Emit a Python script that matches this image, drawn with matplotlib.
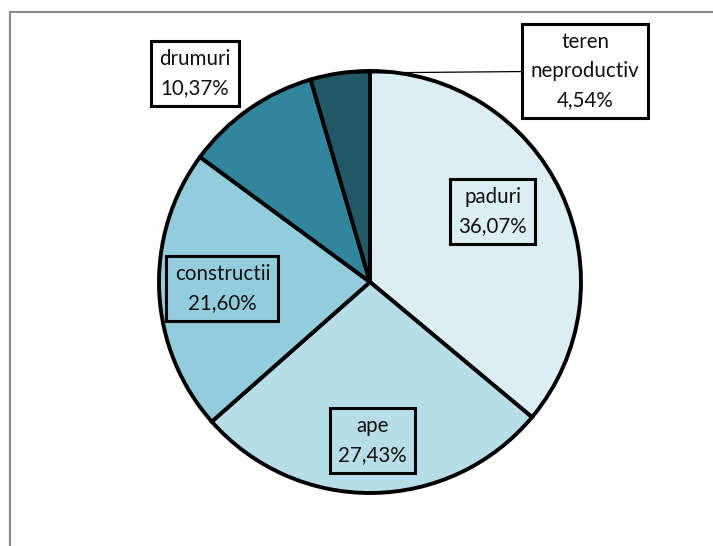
import numpy as np
import matplotlib
matplotlib.use("Agg")
import matplotlib.pyplot as plt
from matplotlib.patches import Rectangle

labels = ["paduri", "ape", "constructii", "drumuri", "teren\nneproductiv"]
values = [36.07, 27.43, 21.60, 10.37, 4.54]
colors = ["#DBEEF4", "#B7DEE8", "#93CDDD", "#31859C", "#215967"]
# where each label sits, as fraction of radius, and angle shift (deg)
label_r = [0.67, 0.75, 0.70, 1.29, None]
label_shift = [4.7, 0, 0, 5, 0]
box_fill = ["none", "none", "none", "white", "white"]

plt.rcParams['font.family'] = ['Lato', 'DejaVu Sans']

fig = plt.figure(figsize=(7.13, 5.46), dpi=100)
ax = fig.add_axes([0, 0, 1, 1])

# pixel-like coordinates, y up
cx, cy, R = 370, 546 - 282, 211
wedges, _ = ax.pie(values, colors=colors, startangle=90, counterclock=False,
                   center=(cx, cy), radius=R,
                   wedgeprops=dict(edgecolor="black", linewidth=2.8))
ax.set_xlim(0, 713)
ax.set_ylim(0, 546)
ax.set_aspect("equal")
ax.axis("off")

# frame around chart area (cut off at right and bottom)
ax.add_patch(Rectangle((9.5, -20), 760, 546 - 12 + 20, fill=False,
                       edgecolor="#8c8c8c", linewidth=1.6, clip_on=False))

fs = 14.8
for i, w in enumerate(wedges):
    txt = labels[i] + "\n" + f"{values[i]:.2f}".replace(".", ",") + "%"
    bbox = dict(boxstyle="square,pad=0.4", facecolor=box_fill[i],
                edgecolor="black", linewidth=2.2)
    if label_r[i] is not None:
        ang = np.deg2rad((w.theta1 + w.theta2) / 2 + label_shift[i])
        x = cx + label_r[i] * R * np.cos(ang)
        y = cy + label_r[i] * R * np.sin(ang)
        ax.text(x, y, txt, ha="center", va="center", fontsize=fs,
                linespacing=1.55, color="#111111", bbox=bbox)
    else:
        ang = np.deg2rad((w.theta1 + w.theta2) / 2)
        px = cx + R * np.cos(ang)
        py = cy + R * np.sin(ang)
        bx, by = 585, 546 - 71
        ax.annotate(txt, xy=(px, py), xytext=(bx, by), ha="center", va="center",
                    fontsize=fs, linespacing=1.55, color="#111111", bbox=bbox,
                    arrowprops=dict(arrowstyle="-", color="black", linewidth=0.9,
                                    shrinkA=0, shrinkB=0))

fig.savefig("out.png", dpi=100)
